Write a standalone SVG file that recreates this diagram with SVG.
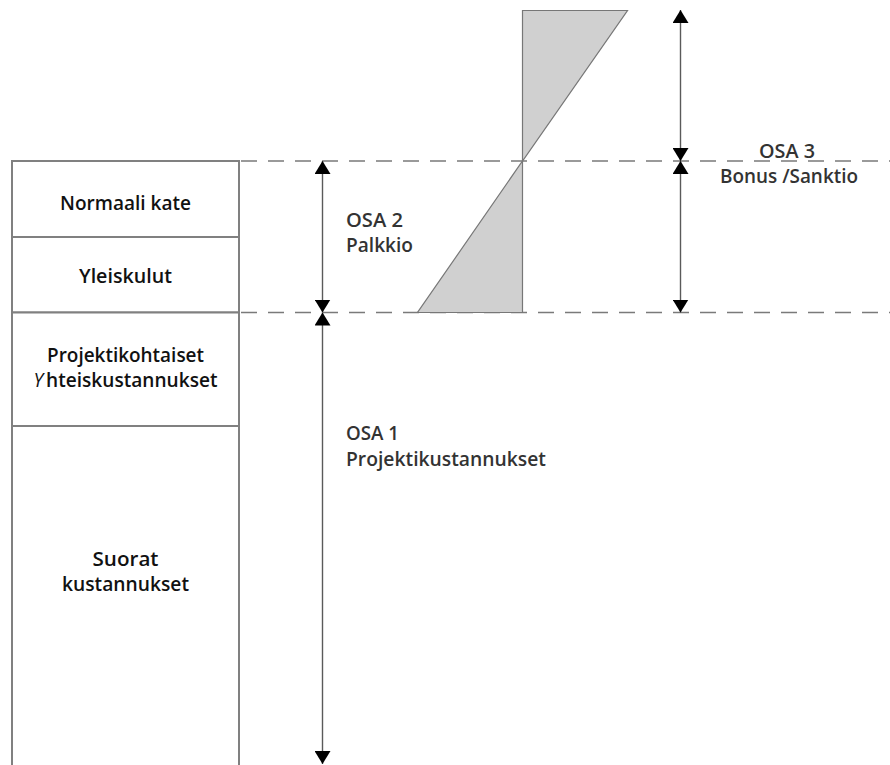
<svg xmlns="http://www.w3.org/2000/svg" width="890" height="765" viewBox="0 0 890 765">
  <style>
    .box { fill: #ffffff; stroke: #808080; stroke-width: 2; }
    .lbl { font-family: "Open Sans", "Noto Sans", sans-serif; font-weight: 600; font-size: 19.5px; fill: #111111; text-anchor: middle; }
    .osa { font-family: "Open Sans", "Noto Sans", sans-serif; font-weight: 600; font-size: 19.5px; fill: #333333; }
    .dash { stroke: #7a7a7a; stroke-width: 1.6; stroke-dasharray: 16 11; fill: none; }
    .dim { stroke: #5a5a5a; stroke-width: 1.4; fill: none; marker-start: url(#head); marker-end: url(#head); }
    .wedge { fill: #d0d0d0; stroke: #777777; stroke-width: 1.2; stroke-linejoin: miter; }
  </style>
  <defs>
    <marker id="head" viewBox="0 0 13 16" refX="13" refY="8" markerWidth="13" markerHeight="16" markerUnits="userSpaceOnUse" orient="auto-start-reverse">
      <path d="M0,0 L13,8 L0,16 z" fill="#000000"/>
    </marker>
  </defs>

  <rect width="890" height="765" fill="#ffffff"/>

  <!-- level guides -->
  <g id="guides">
    <line class="dash" x1="241" y1="161" x2="890" y2="161"/>
    <line class="dash" x1="241" y1="312.5" x2="890" y2="312.5"/>
  </g>

  <!-- cost stack -->
  <g id="normaali-kate">
    <rect class="box" x="12" y="161" width="227" height="76"/>
    <text class="lbl" x="125.5" y="210" textLength="131" lengthAdjust="spacingAndGlyphs">Normaali kate</text>
  </g>
  <g id="yleiskulut">
    <rect class="box" x="12" y="237" width="227" height="75.5"/>
    <text class="lbl" x="125.5" y="283" textLength="93" lengthAdjust="spacingAndGlyphs">Yleiskulut</text>
  </g>
  <g id="yhteiskustannukset">
    <rect class="box" x="12" y="312.5" width="227" height="113.5"/>
    <text class="lbl" x="125.5" y="362" textLength="157" lengthAdjust="spacingAndGlyphs">Projektikohtaiset</text>
    <text class="lbl" x="125.5" y="387" textLength="184" lengthAdjust="spacingAndGlyphs"><tspan font-style="italic" font-weight="400">Y</tspan><tspan dx="3">hteiskustannukset</tspan></text>
  </g>
  <g id="suorat-kustannukset">
    <rect class="box" x="12" y="426" width="227" height="342"/>
    <text class="lbl" x="125.5" y="566" textLength="66" lengthAdjust="spacingAndGlyphs">Suorat</text>
    <text class="lbl" x="125.5" y="591" textLength="127" lengthAdjust="spacingAndGlyphs">kustannukset</text>
  </g>

  <!-- bonus / sanction wedges -->
  <g id="bonus-sanktio">
    <polygon class="wedge" points="522.5,10.5 627.5,10.5 522.5,161"/>
    <polygon class="wedge" points="522.5,161 522.5,312.5 417.5,312.5"/>
  </g>

  <!-- dimension arrows -->
  <g id="connectors">
    <line class="dim" x1="322.5" y1="161" x2="322.5" y2="312.5"/>
    <line class="dim" x1="322.5" y1="312.5" x2="322.5" y2="764"/>
    <line class="dim" x1="680.5" y1="10" x2="680.5" y2="161"/>
    <line class="dim" x1="680.5" y1="161" x2="680.5" y2="312.5"/>
  </g>

  <!-- part labels -->
  <g id="osa-2">
    <text class="osa" x="346" y="227" textLength="57" lengthAdjust="spacingAndGlyphs">OSA 2</text>
    <text class="osa" x="346" y="252" textLength="67" lengthAdjust="spacingAndGlyphs">Palkkio</text>
  </g>
  <g id="osa-1">
    <text class="osa" x="346" y="440" textLength="53" lengthAdjust="spacingAndGlyphs">OSA 1</text>
    <text class="osa" x="346" y="466" textLength="200" lengthAdjust="spacingAndGlyphs">Projektikustannukset</text>
  </g>
  <g id="osa-3">
    <text class="osa" x="787" y="158" text-anchor="middle" textLength="56" lengthAdjust="spacingAndGlyphs">OSA 3</text>
    <text class="osa" x="789" y="183" text-anchor="middle" textLength="138" lengthAdjust="spacingAndGlyphs">Bonus /Sanktio</text>
  </g>
</svg>
